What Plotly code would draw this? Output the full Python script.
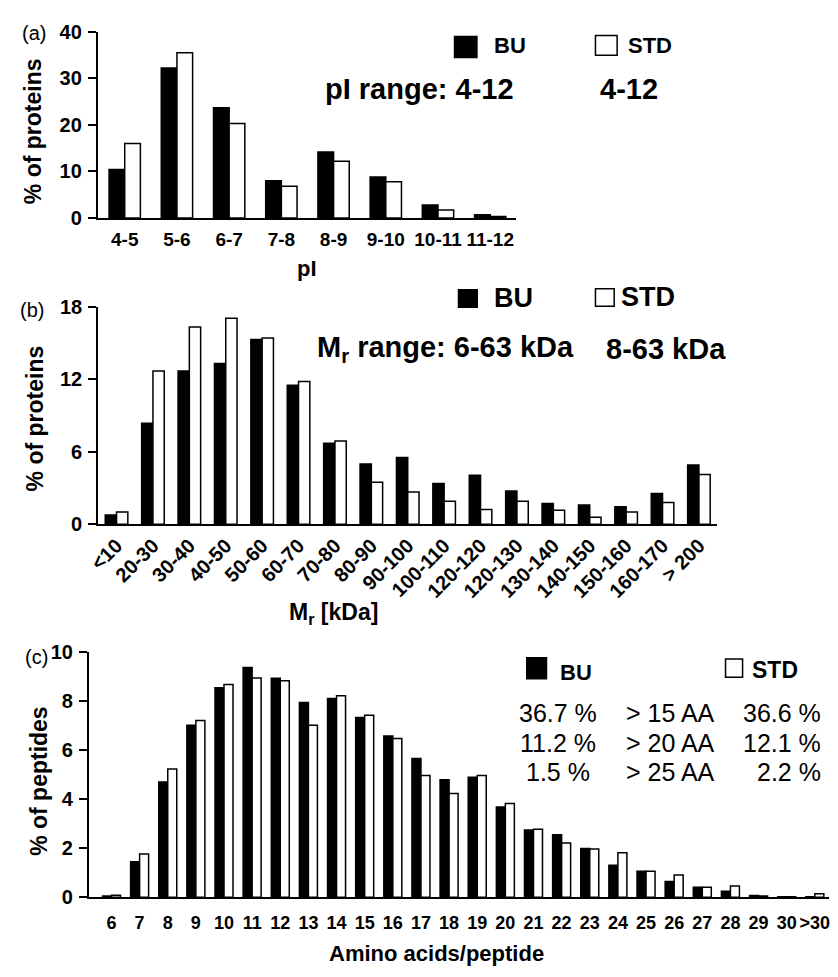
import plotly.graph_objects as go

# The page body keeps its default 8px margin, so the figure is drawn 16px
# smaller than the window and all positions are given in window pixels.
WIN_W, WIN_H = 838, 977
OFF = 8
W, H = WIN_W - 2 * OFF, WIN_H - 2 * OFF
FONT = "Liberation Sans, Arial, sans-serif"

# ---------------- data ----------------
pi_bins = ["4-5", "5-6", "6-7", "7-8", "8-9", "9-10", "10-11", "11-12"]
pi_bu = [10.4, 32.2, 23.7, 8.0, 14.2, 8.8, 2.8, 0.7]
pi_std = [16.0, 35.5, 20.3, 6.8, 12.2, 7.8, 1.7, 0.35]

mr_bins = ["<10", "20-30", "30-40", "40-50", "50-60", "60-70", "70-80", "80-90",
           "90-100", "100-110", "120-120", "120-130", "130-140", "140-150",
           "150-160", "160-170", "> 200"]
mr_bu = [0.75, 8.35, 12.67, 13.3, 15.28, 11.5, 6.7, 4.98, 5.52, 3.37, 4.04,
         2.75, 1.70, 1.59, 1.43, 2.53, 4.9]
mr_std = [1.0, 12.67, 16.3, 17.03, 15.4, 11.8, 6.87, 3.47, 2.67, 1.89, 1.21,
          1.89, 1.16, 0.57, 1.0, 1.8, 4.1]

aa_bins = ["6", "7", "8", "9", "10", "11", "12", "13", "14", "15", "16", "17",
           "18", "19", "20", "21", "22", "23", "24", "25", "26", "27", "28",
           "29", "30", ">30"]
aa_bu = [0.05, 1.44, 4.7, 7.02, 8.55, 9.37, 8.94, 7.95, 8.11, 7.33, 6.58, 5.66,
         4.79, 4.89, 3.68, 2.74, 2.55, 1.99, 1.30, 1.06, 0.64, 0.40, 0.24,
         0.07, 0.02, 0.02]
aa_std = [0.08, 1.76, 5.23, 7.21, 8.68, 8.95, 8.83, 7.02, 8.22, 7.42, 6.48, 4.97,
          4.23, 4.97, 3.82, 2.77, 2.21, 1.96, 1.81, 1.06, 0.90, 0.40, 0.45,
          0.05, 0.02, 0.14]

series_names = ["BU", "STD"]
stats_bu = ["36.7 %", "11.2 %", "1.5 %"]
stats_lbl = ["> 15 AA", "> 20 AA", "> 25 AA"]
stats_std = ["36.6 %", "12.1 %", "2.2 %"]


def px(x):
    return (x - OFF) / W


def py(y):
    return 1 - (y - OFF) / H


fig = go.Figure()

panels = [
    ("x", "y", pi_bins, pi_bu, pi_std, 0.30),
    ("x2", "y2", mr_bins, mr_bu, mr_std, 0.31),
    ("x3", "y3", aa_bins, aa_bu, aa_std, 0.32),
]
for xa, ya, cats, bu, std, w in panels:
    fig.add_trace(go.Bar(x=cats, y=bu, xaxis=xa, yaxis=ya, name=series_names[0],
                         width=w, offset=-w, showlegend=False,
                         marker=dict(color="black", line=dict(color="black", width=1.5))))
    fig.add_trace(go.Bar(x=cats, y=std, xaxis=xa, yaxis=ya, name=series_names[1],
                         width=w, offset=0, showlegend=False,
                         marker=dict(color="white", line=dict(color="black", width=1.5))))

bold = dict(family=FONT, color="black", weight="bold")

xcommon = dict(showline=True, linewidth=2, linecolor="black", ticks="",
               showgrid=False, zeroline=False, type="category", fixedrange=True)
ycommon = dict(showline=True, linewidth=2, linecolor="black", ticks="outside",
               ticklen=8, tickwidth=2, tickcolor="black", showgrid=False,
               zeroline=False, tickfont=dict(size=20, **bold), ticklabelstandoff=2)

fig.update_layout(
    width=W, height=H, autosize=False,
    margin=dict(l=0, r=0, t=0, b=0),
    paper_bgcolor="white", plot_bgcolor="white",
    barmode="overlay",
    font=dict(family=FONT, color="black"),
    xaxis=dict(domain=[px(88), px(512.7)], anchor="y", range=[-0.515, 7.5],
               tickangle=0, tickfont=dict(size=19, **bold), ticklabelstandoff=3,
               **xcommon),
    yaxis=dict(domain=[py(211.7), py(21)], anchor="x", range=[0, 40],
               tickvals=[0, 10, 20, 30, 40], **ycommon),
    xaxis2=dict(domain=[px(88.3), px(716.7)], anchor="y2", range=[-0.506, 16.506],
                tickangle=-45, tickfont=dict(size=20, **bold),
                tickvals=mr_bins, ticktext=[c.replace("<", "&lt;") for c in mr_bins],
                **xcommon),
    yaxis2=dict(domain=[py(525), py(302.3)], anchor="x2", range=[0, 18],
                tickvals=[0, 6, 12, 18], **ycommon),
    xaxis3=dict(domain=[px(79), px(829.9)], anchor="y3", range=[-0.80, 25.50],
                tickangle=0, tickfont=dict(size=18, **bold), ticklabelstandoff=8,
                **xcommon),
    yaxis3=dict(domain=[py(906.7), py(656)], anchor="x3", range=[0, 10],
                tickvals=[0, 2, 4, 6, 8, 10], **ycommon),
)

anns = []


def ann(text, x, y, size, xanchor="center", weight="bold", angle=0):
    anns.append(dict(text=text, x=px(x), y=py(y), xref="paper", yref="paper",
                     xanchor=xanchor, yanchor="middle", showarrow=False,
                     textangle=angle,
                     font=dict(family=FONT, size=size, color="black", weight=weight)))


# panel labels
ann("(a)", 23, 22, 20, weight="normal")
ann("(b)", 21, 306, 20, weight="normal")
ann("(c)", 26, 661, 20, weight="normal")

# y titles
ann("% of proteins", 23, 123, 23, angle=-90)
ann("% of proteins", 24, 417, 23, angle=-90)
ann("% of peptides", 28, 788, 23, angle=-90)

# x titles
ann("pI", 300, 263, 22)
ann("M<sub>r</sub> [kDa]", 327, 616, 23)
ann("Amino acids/peptide", 432, 964, 22)

# panel a legend & text
ann(series_names[0], 488, 35, 22, xanchor="left")
ann(series_names[1], 624, 35, 22, xanchor="left")
ann("pI range: 4-12", 512, 80, 29, xanchor="right")
ann("4-12", 627.5, 80, 29)

# panel b legend & text
ann(series_names[0], 488, 294, 27, xanchor="left")
ann(series_names[1], 617, 293, 27, xanchor="left")
ann("M<sub>r</sub> range: 6-63 kDa", 573, 346, 29, xanchor="right")
ann("8-63 kDa", 601.7, 346, 29, xanchor="left")

# panel c legend & stats
ann(series_names[0], 555, 677, 22, xanchor="left")
ann(series_names[1], 750, 674, 23, xanchor="left")
for i, yy in enumerate([718, 749, 779]):
    ann(stats_bu[i], 555, yy, 25, weight="normal")
    ann(stats_lbl[i], 622, yy, 25, xanchor="left", weight="normal")
    ann(stats_std[i], 824, yy, 25, xanchor="right", weight="normal")

fig.update_layout(annotations=anns)

# legend keys
shapes = []
for (x0, y0, x1, y1, fill) in [
    (450, 26, 472.7, 47.3, "black"), (593, 25, 615, 45, "white"),
    (454, 285, 473, 303, "black"), (593, 284, 612, 302, "white"),
    (523.3, 661.7, 543.3, 683.3, "black"), (725, 663, 742.3, 681.7, "white"),
]:
    shapes.append(dict(type="rect", xref="paper", yref="paper",
                       x0=px(x0), x1=px(x1), y0=py(y1), y1=py(y0),
                       fillcolor=fill, line=dict(color="black", width=1.5)))
fig.update_layout(shapes=shapes)

fig.write_html("out.html", config={"displayModeBar": False})
